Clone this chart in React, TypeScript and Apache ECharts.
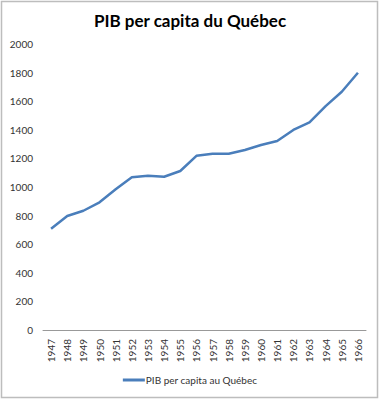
import React, { useEffect, useRef } from "react";
import * as echarts from "echarts";

const years = ["1947","1948","1949","1950","1951","1952","1953","1954","1955","1956","1957","1958","1959","1960","1961","1962","1963","1964","1965","1966"];
const pib = [708, 797, 834, 893, 984, 1068, 1079, 1072, 1112, 1218, 1233, 1233, 1259, 1294, 1322, 1399, 1452, 1566, 1666, 1799];
const seriesName = "PIB per capita au Québec";
const titleText = "PIB per capita du Québec";

export default function App() {
  const ref = useRef<HTMLDivElement>(null);
  useEffect(() => {
    const chart = echarts.init(ref.current!, null, { renderer: "svg" });
    chart.setOption({
      animation: false,
      backgroundColor: "#fff",
      title: {
        text: titleText,
        left: "center",
        top: 7,
        textStyle: { fontFamily: "Lato", fontWeight: "bold", fontSize: 17, color: "#000" },
      },
      graphic: [
        {
          type: "rect",
          shape: { x: 1.5, y: 1.5, width: 376, height: 396 },
          style: { fill: "none", stroke: "#bdbdbd", lineWidth: 1.5 },
          silent: true,
        },
      ],
      grid: { left: 43, right: 14, top: 44, bottom: 70 },
      legend: {
        bottom: 10,
        left: "center",
        itemWidth: 22,
        itemHeight: 3,
        itemGap: 0,
        data: [{ name: seriesName, icon: "rect" }],
        textStyle: { fontFamily: "Lato", fontSize: 10, color: "#333", padding: [0, 0, 0, -4] },
      },
      xAxis: {
        type: "category",
        data: years,
        boundaryGap: true,
        axisLine: { lineStyle: { color: "#999", width: 1 } },
        axisTick: { show: false },
        axisLabel: { rotate: 90, fontFamily: "Lato", fontSize: 10, color: "#333", margin: 9 },
      },
      yAxis: {
        type: "value",
        min: 0,
        max: 2000,
        interval: 200,
        axisLine: { show: false },
        axisTick: { show: false },
        splitLine: { show: false },
        axisLabel: {
          fontFamily: "Lato",
          fontSize: 10,
          color: "#333",
          margin: 10,
          formatter: (v: number) => String(v),
        },
      },
      series: [
        {
          name: seriesName,
          type: "line",
          data: pib,
          symbol: "none",
          lineStyle: { color: "#4a7ebb", width: 2.5 },
          itemStyle: { color: "#4a7ebb" },
        },
      ],
    });
    return () => chart.dispose();
  }, []);
  return (
    <div
      ref={ref}
      style={{ position: "fixed", left: 0, top: 0, width: 380, height: 400 }}
    />
  );
}
